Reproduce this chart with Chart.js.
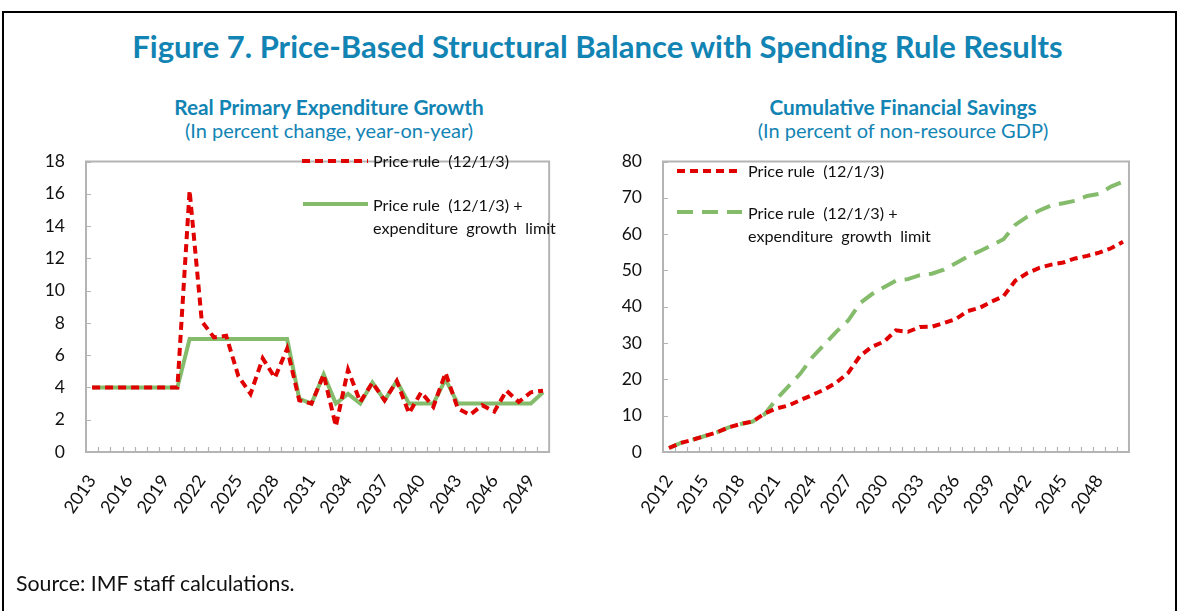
<!DOCTYPE html>
<html>
<head>
<meta charset="utf-8">
<script src="https://cdn.jsdelivr.net/npm/chart.js@4.4.1/dist/chart.umd.min.js"></script>
<style>
  html, body { margin: 0; padding: 0; background: #fff; }
  #wrap { position: relative; width: 1180px; height: 611px; overflow: hidden; font-family: Lato, "Open Sans", sans-serif; }
  #frame { position: absolute; left: 2px; top: 11px; width: 1175px; height: 640px; border: 2px solid #000; box-sizing: border-box; }
  .t { position: absolute; white-space: pre; color: #1284b4; text-align: center; }
  #title { left: 0; width: 1195px; top: 27px; font-size: 31px; font-weight: bold; }
  .sub1 { font-size: 20.8px; font-weight: bold; }
  .sub2 { font-size: 20px; }
  .cv { position: absolute; }
  .leg { position: absolute; white-space: pre; font-size: 16.2px; color: #111; line-height: 23px; }
  svg.ls { position: absolute; overflow: visible; }
  #src { position: absolute; left: 16px; top: 570px; font-size: 21.3px; color: #111; white-space: pre; }
</style>
</head>
<body>
<div id="wrap">
  <div id="frame"></div>
  <div id="title" class="t">Figure 7. Price-Based Structural Balance with Spending Rule Results</div>
  <div class="t sub1" style="left:129px;width:400px;top:94px;">Real Primary Expenditure Growth</div>
  <div class="t sub2" style="left:129px;width:400px;top:118px;">(In percent change, year-on-year)</div>
  <div class="t sub1" style="left:703px;width:400px;top:94px;">Cumulative Financial Savings</div>
  <div class="t sub2" style="left:703px;width:400px;top:118px;">(In percent of non-resource GDP)</div>

  <canvas id="c1" class="cv" width="560" height="410" style="left:20px;top:130px;width:560px;height:410px;"></canvas>
  <canvas id="c2" class="cv" width="560" height="410" style="left:600px;top:130px;width:560px;height:410px;"></canvas>

  <svg class="ls" style="left:0;top:0;width:1180px;height:611px;pointer-events:none;">
    <line x1="302" y1="161" x2="368" y2="161" stroke="#e00000" stroke-width="4" stroke-dasharray="8 5"/>
    <line x1="303" y1="204" x2="368" y2="204" stroke="#84bc6c" stroke-width="4"/>
    <line x1="677" y1="171" x2="742" y2="171" stroke="#e00000" stroke-width="4" stroke-dasharray="8 5"/>
    <line x1="677" y1="212" x2="742" y2="212" stroke="#84bc6c" stroke-width="4" stroke-dasharray="16 9"/>
  </svg>
  <div class="leg" style="left:373px;top:149px;">Price rule  (12/1/3)</div>
  <div class="leg" style="left:373px;top:193px;">Price rule  (12/1/3) +
expenditure  growth  limit</div>
  <div class="leg" style="left:748px;top:159px;">Price rule  (12/1/3)</div>
  <div class="leg" style="left:748px;top:201px;">Price rule  (12/1/3) +
expenditure  growth  limit</div>

  <div id="src">Source: IMF staff calculations.</div>
</div>
<script>
// ---------- DATA ----------
const leftYears = [2013,2014,2015,2016,2017,2018,2019,2020,2021,2022,2023,2024,2025,2026,2027,2028,2029,2030,2031,2032,2033,2034,2035,2036,2037,2038,2039,2040,2041,2042,2043,2044,2045,2046,2047,2048,2049,2050];
const leftPriceRule = [4,4,4,4,4,4,4,4,16.2,8.1,7.1,7.2,4.7,3.6,5.8,4.6,6.4,3.2,3.0,4.8,1.6,5.1,3.1,4.3,3.2,4.4,2.4,3.7,2.8,4.9,2.7,2.3,2.9,2.5,3.8,3.1,3.7,3.8];
const leftPriceRuleLimit = [4,4,4,4,4,4,4,4,7,7,7,7,7,7,7,7,7,3.3,3.0,4.8,3.0,3.6,3.0,4.3,3.2,4.4,3.0,3.0,3.0,4.5,3.0,3.0,3.0,3.0,3.0,3.0,3.0,3.7];
const leftYTicks = [0,2,4,6,8,10,12,14,16,18];

const rightYears = [2012,2013,2014,2015,2016,2017,2018,2019,2020,2021,2022,2023,2024,2025,2026,2027,2028,2029,2030,2031,2032,2033,2034,2035,2036,2037,2038,2039,2040,2041,2042,2043,2044,2045,2046,2047,2048,2049,2050];
const rightPriceRule = [1.1,2.5,3.4,4.4,5.4,6.8,7.7,8.4,10.6,12.0,12.8,14.3,15.7,17.2,19.1,21.8,26.5,29.0,30.4,33.5,33.1,34.4,34.5,35.5,36.6,38.8,39.7,41.4,42.9,47.2,49.3,50.7,51.6,52.2,53.3,54.0,54.9,56.1,57.9];
const rightPriceRuleLimit = [1.1,2.5,3.4,4.4,5.4,6.8,7.7,8.4,10.4,14.6,18.1,21.6,26.1,29.6,33.1,36.2,41.0,43.5,45.4,47.2,47.6,48.7,49.1,50.2,52.0,53.8,55.3,56.9,58.6,62.6,64.8,66.5,67.9,68.5,69.2,70.5,71.1,73.1,74.4];
const rightYTicks = [0,10,20,30,40,50,60,70,80];

const labelEvery = 3;

// ---------- STYLE ----------
const RED = '#e00000';
const GREEN = '#84bc6c';
const AXIS = '#b4b4b4';
const TXT = '#111';
const FONT = 'Lato, "Open Sans", sans-serif';

const framePlugin = {
  id: 'frame',
  beforeDatasetsDraw(chart) {
    const { ctx, chartArea: a, scales } = chart;
    const xs = scales.x, ys = scales.y;
    ctx.save();
    ctx.strokeStyle = AXIS;
    ctx.lineWidth = 2;
    ctx.strokeRect(a.left, a.top, a.right - a.left, a.bottom - a.top);
    ctx.lineWidth = 1.2;
    ctx.beginPath();
    const n = chart.data.labels.length;
    for (let i = 1; i < n; i++) {
      const x = Math.round((xs.getPixelForValue(i - 1) + xs.getPixelForValue(i)) / 2) + 0.5;
      ctx.moveTo(x, a.bottom);
      ctx.lineTo(x, a.bottom - 5);
    }
    ys.ticks.forEach(t => {
      const y = Math.round(ys.getPixelForValue(t.value)) + 0.5;
      ctx.moveTo(a.left, y);
      ctx.lineTo(a.left + 5, y);
    });
    ctx.stroke();
    ctx.restore();
  }
};

function makeChart(id, years, s1, s2, s2dash, yTicks, yWidth, padRight) {
  const yMax = yTicks[yTicks.length - 1];
  const yStep = yTicks[1] - yTicks[0];
  return new Chart(document.getElementById(id), {
    type: 'line',
    data: {
      labels: years.map(String),
      datasets: [
        { data: s1, borderColor: RED, borderWidth: 4, borderDash: [8, 5], pointRadius: 0, tension: 0, fill: false },
        { data: s2, borderColor: GREEN, borderWidth: 4, borderDash: s2dash, pointRadius: 0, tension: 0, fill: false }
      ]
    },
    options: {
      responsive: false,
      animation: false,
      devicePixelRatio: 1,
      layout: { autoPadding: false, padding: { left: 0, right: padRight, top: 19, bottom: 0 } },
      plugins: { legend: { display: false }, tooltip: { enabled: false } },
      scales: {
        x: {
          type: 'category',
          offset: true,
          grid: { display: false, offset: true, drawTicks: false },
          border: { display: false },
          afterFit(scale) { scale.height = 88; },
          ticks: {
            autoSkip: false,
            maxRotation: 55,
            minRotation: 55,
            padding: 19,
            color: TXT,
            font: { family: FONT, size: 18 },
            callback(v, i) { return i % labelEvery === 0 ? this.getLabelForValue(v) : ''; }
          }
        },
        y: {
          min: yTicks[0],
          max: yMax,
          grid: { display: false, drawTicks: false },
          border: { display: false },
          afterFit(scale) { scale.width = yWidth; },
          ticks: {
            stepSize: yStep,
            padding: 21,
            color: TXT,
            font: { family: FONT, size: 17.5 }
          }
        }
      }
    },
    plugins: [framePlugin]
  });
}

makeChart('c1', leftYears, leftPriceRule, leftPriceRuleLimit, [], leftYTicks, 66, 19);
makeChart('c2', rightYears, rightPriceRule, rightPriceRuleLimit, [16, 9], rightYTicks, 63, 25);
</script>
</body>
</html>
